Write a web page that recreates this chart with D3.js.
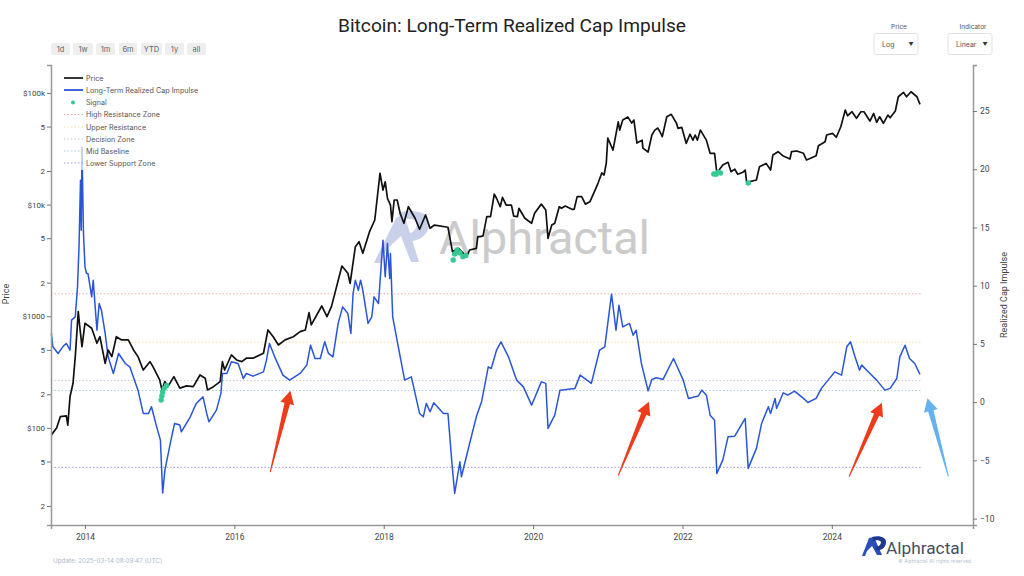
<!DOCTYPE html>
<html>
<head>
<meta charset="utf-8">
<script src="https://cdn.jsdelivr.net/npm/d3@7"></script>
<style>
html, body { margin: 0; padding: 0; background: #fff; }
svg { display: block; }
text { font-family: Inter, Roboto, sans-serif; }
</style>
</head>
<body>
<svg id="chart" width="1024" height="576"></svg>
<script>
// values
var priceYears = [2013.55,2013.62,2013.67,2013.75,2013.77,2013.80,2013.84,2013.87,2013.91,2013.93,2013.96,2014.00,2014.09,2014.16,2014.20,2014.27,2014.31,2014.36,2014.42,2014.49,2014.58,2014.65,2014.71,2014.78,2014.87,2014.91,2015.00,2015.03,2015.07,2015.11,2015.19,2015.27,2015.36,2015.45,2015.54,2015.61,2015.64,2015.72,2015.81,2015.84,2015.87,2015.96,2016.03,2016.10,2016.16,2016.25,2016.39,2016.45,2016.52,2016.59,2016.68,2016.79,2016.88,2016.95,2017.00,2017.03,2017.17,2017.24,2017.30,2017.44,2017.52,2017.55,2017.62,2017.67,2017.72,2017.81,2017.88,2017.95,2017.99,2018.02,2018.05,2018.09,2018.11,2018.14,2018.18,2018.22,2018.27,2018.33,2018.42,2018.48,2018.56,2018.62,2018.68,2018.86,2018.92,2019.00,2019.11,2019.15,2019.24,2019.26,2019.29,2019.33,2019.38,2019.43,2019.48,2019.51,2019.56,2019.59,2019.64,2019.71,2019.74,2019.79,2019.81,2019.89,2019.98,2020.02,2020.11,2020.17,2020.20,2020.25,2020.29,2020.35,2020.38,2020.43,2020.52,2020.55,2020.59,2020.65,2020.70,2020.76,2020.83,2020.87,2020.92,2020.95,2020.98,2021.00,2021.07,2021.14,2021.16,2021.20,2021.27,2021.32,2021.35,2021.39,2021.46,2021.47,2021.54,2021.59,2021.63,2021.67,2021.70,2021.73,2021.79,2021.85,2021.92,2021.94,2021.99,2022.05,2022.10,2022.14,2022.17,2022.20,2022.24,2022.32,2022.37,2022.43,2022.46,2022.54,2022.61,2022.65,2022.70,2022.74,2022.81,2022.84,2022.86,2022.99,2023.03,2023.12,2023.18,2023.21,2023.28,2023.35,2023.44,2023.46,2023.53,2023.62,2023.66,2023.73,2023.79,2023.82,2023.91,2023.93,2024.01,2024.06,2024.12,2024.18,2024.21,2024.27,2024.33,2024.39,2024.43,2024.51,2024.56,2024.60,2024.64,2024.69,2024.75,2024.78,2024.85,2024.89,2024.96,2025.00,2025.06,2025.14,2025.18];
var priceValues = [86.6,100,126,128,106,191,251,435,1100,807,535,866,781,573,656,379,499,435,656,614,614,499,435,330,392,354,269,219,260,234,288,227,238,234,298,279,219,234,260,392,330,450,406,392,421,421,466,754,656,553,614,656,728,754,1077,836,1236,992,1219,2818,2427,1972,4198,4656,3664,5720,7280,19100,13500,16000,11400,9910,7030,11000,11000,8360,6808,9570,7540,6010,8070,6140,6560,6270,3790,4060,3420,3920,4060,5160,5160,5240,7800,7800,12400,11400,9570,11600,9910,9910,7900,7800,9270,7540,6808,8360,10100,8950,4990,6560,6808,9570,9270,9710,9080,9080,11800,11800,10100,10600,13500,15600,19200,18400,23600,39400,30800,55000,46500,57200,60800,53700,57200,35600,37800,32100,29600,42000,46500,48500,44700,40600,61200,64300,53500,48200,49200,35400,42700,37800,42000,37800,46500,37800,28800,28800,19200,22600,23900,19700,20800,18700,19500,20400,15800,16600,21800,23400,20400,27800,29800,27200,25600,29800,30200,28800,25100,26300,27400,33700,36600,42000,43500,40100,49800,70300,62500,67900,59300,67900,67900,56000,65600,54600,61200,53500,63400,60000,68900,92500,101200,92500,102500,92500,79100];

var impulseYears = [2013.55,2013.57,2013.64,2013.71,2013.75,2013.80,2013.82,2013.87,2013.90,2013.92,2013.94,2013.95,2013.96,2013.98,2014.00,2014.02,2014.04,2014.09,2014.11,2014.16,2014.19,2014.22,2014.27,2014.31,2014.38,2014.45,2014.54,2014.60,2014.71,2014.78,2014.85,2014.89,2014.96,2015.01,2015.04,2015.07,2015.16,2015.20,2015.27,2015.29,2015.41,2015.49,2015.58,2015.63,2015.66,2015.76,2015.82,2015.84,2015.90,2015.96,2016.05,2016.12,2016.16,2016.25,2016.39,2016.43,2016.47,2016.54,2016.65,2016.74,2016.88,2016.97,2017.02,2017.08,2017.15,2017.21,2017.26,2017.32,2017.39,2017.45,2017.52,2017.56,2017.59,2017.62,2017.66,2017.69,2017.72,2017.79,2017.84,2017.87,2017.93,2017.99,2018.02,2018.05,2018.08,2018.09,2018.12,2018.17,2018.28,2018.37,2018.48,2018.53,2018.57,2018.62,2018.67,2018.80,2018.86,2018.91,2018.95,2019.02,2019.04,2019.15,2019.24,2019.31,2019.40,2019.44,2019.51,2019.57,2019.67,2019.78,2019.87,2019.98,2020.11,2020.17,2020.20,2020.29,2020.36,2020.56,2020.63,2020.78,2020.89,2020.96,2021.05,2021.11,2021.15,2021.20,2021.29,2021.34,2021.38,2021.45,2021.54,2021.59,2021.65,2021.74,2021.88,2021.94,2022.01,2022.08,2022.21,2022.26,2022.32,2022.37,2022.43,2022.46,2022.54,2022.61,2022.70,2022.84,2022.88,2022.99,2023.06,2023.15,2023.18,2023.24,2023.26,2023.35,2023.41,2023.50,2023.62,2023.68,2023.79,2023.86,2024.04,2024.13,2024.20,2024.25,2024.31,2024.37,2024.40,2024.51,2024.60,2024.71,2024.78,2024.87,2024.91,2024.98,2025.04,2025.11,2025.18];
var impulseValues = [5.90,4.75,4.18,4.81,5.04,4.46,7.04,7.32,9.90,13.33,19.06,14.76,21.89,14.48,11.61,11.05,11.05,9.04,10.47,6.18,8.47,7.90,5.90,3.89,2.46,4.18,3.32,3.03,1.03,-0.97,-0.97,-0.40,-2.12,-3.26,-7.81,-5.84,-2.98,-1.83,-1.97,-2.55,-1.26,-0.11,0.45,-0.97,-1.69,-0.69,0.75,2.46,2.46,3.46,3.32,2.03,2.46,2.23,2.60,3.61,5.04,3.89,2.32,1.89,2.46,3.18,4.89,3.75,3.75,5.18,4.18,3.89,6.76,8.18,7.61,5.90,9.33,10.47,9.61,10.47,9.61,6.76,7.32,9.04,8.47,13.91,10.76,13.62,10.62,12.76,7.32,5.61,1.89,2.17,-0.97,-1.26,-0.11,-0.83,-0.06,-0.97,-0.97,-4.98,-7.84,-5.12,-6.41,-3.55,-1.26,0.03,3.03,2.89,4.46,5.18,3.89,1.89,1.31,-0.26,1.74,1.61,-2.26,-1.12,1.03,1.18,2.32,1.61,4.46,4.75,9.27,6.18,8.33,6.46,6.76,5.75,6.18,3.32,0.97,1.95,2.09,1.95,3.75,2.89,1.89,0.32,0.52,1.03,0.60,-1.12,-1.55,-6.12,-4.98,-2.98,-2.92,-1.40,-5.69,-3.97,-1.83,-0.40,-0.97,0.32,-0.54,0.80,0.60,0.94,0.32,-0.03,0.32,1.18,2.60,2.32,4.75,5.18,3.89,2.75,3.18,2.46,1.89,1.03,1.18,2.03,3.89,4.89,3.75,3.32,2.38];

var signalYears = [2015.02,2015.03,2015.04,2015.06,2015.09,2018.93,2018.95,2018.98,2019.00,2019.02,2019.06,2019.10,2022.42,2022.45,2022.48,2022.51,2022.88];
var signalPrices = [178,193,210,226,240,3190,3610,3920,3770,3690,3420,3500,18800,18700,19500,19200,15600];

var zoneNames = ["High Resistance Zone","Upper Resistance","Decision Zone","Mid Baseline","Lower Support Zone"];
var zoneValues = [9.3,5.15,1.85,1.0,-5.6];
var zoneColors = ["#f0a8a0","#f5e0a0","#c8c8e0","#a8d0d8","#9a9ae8"];

var yearTicks = [2014,2016,2018,2020,2022,2024];
var priceTicks = [100000,50000,20000,10000,5000,2000,1000,500,200,100,50,20];
var priceTickLabels = ["$100k","5","2","$10k","5","2","$1000","5","2","$100","5","2"];
var impulseTicks = [-10,-5,0,5,10,15,20,25];
var rangeButtons = ["1d","1w","1m","6m","YTD","1y","all"];

// arrows are [year, impulse] tail then tip
var redArrows = [[2016.48,-6.0,2016.75,0.97],[2021.14,-6.3,2021.55,0.03],[2024.23,-6.41,2024.67,-0.06]];
var blueArrows = [[2025.56,-6.38,2025.28,0.33]];

var svg = d3.select("#chart");
var left = 51, right = 973, top_ = 65, bottom = 525;

var x = d3.scaleLinear().domain([2013.545,2025.89]).range([left,right]);
var yPrice = d3.scaleLog().domain([13.5,178000]).range([bottom,top_]);
var yImpulse = d3.scaleLinear().domain([-10.55,28.95]).range([bottom,top_]);

// watermark
var wm = svg.append("g").attr("fill","#c9d0ea");
wm.append("path").attr("d","M374 263 L396 218 L404 214 L419 262 L411 262 L401 236 L386 250 L381 263 Z");
wm.append("path").attr("d","M398 213 C412 209 428 211 429 222 C430 234 420 241 410 241 L408 234 C414 232 418 228 416 222 C414 218 406 218 401 220 Z");
svg.append("text").attr("x",439).attr("y",254).attr("font-size",46.8)
    .style("font-family","Roboto").attr("fill","#cbcbcb").text("Alphractal");

// title
svg.append("text").attr("x",512).attr("y",32).attr("text-anchor","middle").attr("font-size",19.15)
    .style("font-family","Roboto").attr("fill","#222").text("Bitcoin: Long-Term Realized Cap Impulse");

// range buttons
var buttonX = [51,73,96,119,141,165,187];
var buttonW = [19,20,19,18,21,19,19];
rangeButtons.forEach(function(name,i){
    svg.append("rect").attr("x",buttonX[i]).attr("y",43).attr("width",buttonW[i]).attr("height",12)
        .attr("rx",2).attr("fill","#eeeeee");
    svg.append("text").attr("x",buttonX[i]+buttonW[i]/2).attr("y",51.5).attr("text-anchor","middle")
        .attr("font-size",7.5).attr("fill","#666").text(name);
});

// dropdowns
function dropdown(bx,title,value){
    svg.append("text").attr("x",bx+25).attr("y",29).attr("text-anchor","middle").attr("font-size",6.5).attr("fill","#555").text(title);
    svg.append("rect").attr("x",bx).attr("y",33.5).attr("width",44).attr("height",21).attr("rx",2)
        .attr("fill","#fff").attr("stroke","#e2e2e2");
    svg.append("text").attr("x",bx+8).attr("y",47).attr("font-size",7).attr("fill","#555").text(value);
    svg.append("text").attr("x",bx+37).attr("y",46).attr("text-anchor","middle").attr("font-size",5).attr("fill","#333").text("\u25BC");
}
dropdown(874,"Price","Log");
dropdown(948,"Indicator","Linear");

// zone lines
svg.selectAll(".zone").data(zoneValues).enter().append("line")
    .attr("x1",left).attr("x2",x(2025.19))
    .attr("y1",function(d){ return yImpulse(d); }).attr("y2",function(d){ return yImpulse(d); })
    .attr("stroke",function(d,i){ return zoneColors[i]; })
    .attr("stroke-width",1).attr("stroke-dasharray","1.5 2");

// series
var impulseLine = d3.line().x(function(d){ return x(d[0]); }).y(function(d){ return yImpulse(d[1]); });
var priceLine = d3.line().x(function(d){ return x(d[0]); }).y(function(d){ return yPrice(d[1]); });

svg.append("path").datum(d3.zip(impulseYears,impulseValues)).attr("d",impulseLine)
    .attr("fill","none").attr("stroke","#2a55d6").attr("stroke-width",1.5).attr("stroke-linejoin","round");
svg.append("path").datum(d3.zip(priceYears,priceValues)).attr("d",priceLine)
    .attr("fill","none").attr("stroke","#111").attr("stroke-width",1.7).attr("stroke-linejoin","round");

svg.selectAll(".signal").data(d3.zip(signalYears,signalPrices)).enter().append("circle")
    .attr("cx",function(d){ return x(d[0]); }).attr("cy",function(d){ return yPrice(d[1]); })
    .attr("r",2.7).attr("fill","#35c994");

// arrows
function arrow(a,color){
    var x0 = x(a[0]), y0 = yImpulse(a[1]), x1 = x(a[2]), y1 = yImpulse(a[3]);
    var len = Math.sqrt((x1-x0)*(x1-x0)+(y1-y0)*(y1-y0));
    var ux = (x1-x0)/len, uy = (y1-y0)/len, nx = -uy, ny = ux;
    var hx = x1-ux*13, hy = y1-uy*13;
    var pts = [
        [x0+nx*0.5,y0+ny*0.5],[hx+nx*2.8,hy+ny*2.8],[hx+nx*7,hy+ny*7],[x1,y1],
        [hx-nx*7,hy-ny*7],[hx-nx*2.8,hy-ny*2.8],[x0-nx*0.5,y0-ny*0.5]
    ];
    svg.append("polygon").attr("points",pts.map(function(p){ return p.join(","); }).join(" ")).attr("fill",color);
}
redArrows.forEach(function(a){ arrow(a,"#ee3b1b"); });
blueArrows.forEach(function(a){ arrow(a,"#65b2f2"); });

// axes
var axisColor = "#999";
var gLeft = svg.append("g").attr("transform","translate("+left+",0)")
    .call(d3.axisLeft(yPrice).tickValues(priceTicks).tickSize(4).tickPadding(2)
    .tickFormat(function(d,i){ return priceTickLabels[i]; }));
var gRight = svg.append("g").attr("transform","translate("+right+",0)")
    .call(d3.axisRight(yImpulse).tickValues(impulseTicks).tickSize(4).tickPadding(3)
    .tickFormat(function(d){ return d < 0 ? "\u2212"+Math.abs(d) : d; }));
var gBottom = svg.append("g").attr("transform","translate(0,"+bottom+")")
    .call(d3.axisBottom(x).tickValues(yearTicks).tickSize(4).tickPadding(5).tickFormat(d3.format("d")));

[gLeft,gRight,gBottom].forEach(function(g){
    g.select(".domain").attr("stroke",axisColor).attr("stroke-width",1.5);
    g.selectAll(".tick line").attr("stroke","#777");
    g.selectAll(".tick text").attr("fill","#444").style("font-family","Roboto");
});
gLeft.selectAll(".tick text").attr("font-size",8);
gRight.selectAll(".tick text").attr("font-size",8.5);
gBottom.selectAll(".tick text").attr("font-size",8.5);

svg.append("text").attr("transform","translate(9,294) rotate(-90)").attr("text-anchor","middle")
    .attr("font-size",9).style("font-family","Roboto").attr("fill","#444").text("Price");
svg.append("text").attr("transform","translate(1007,295) rotate(-90)").attr("text-anchor","middle")
    .attr("font-size",9).style("font-family","Roboto").attr("fill","#444").text("Realized Cap Impulse");

// legend sits on a see-through white panel
svg.append("rect").attr("x",57).attr("y",70).attr("width",146).attr("height",100).attr("fill","#fff").attr("opacity",0.7);
var rowY = [78,90,102.5,114.5,127,139,151,163];
var rowNames = ["Price","Long-Term Realized Cap Impulse","Signal"].concat(zoneNames);
rowNames.forEach(function(name,i){
    svg.append("text").attr("x",86).attr("y",rowY[i]+2.7).attr("font-size",7.2).attr("fill","#555").text(name);
    if (i == 2) {
        svg.append("circle").attr("cx",73).attr("cy",rowY[i]).attr("r",2).attr("fill","#35c994");
    } else if (i < 2) {
        svg.append("line").attr("x1",64).attr("x2",83).attr("y1",rowY[i]).attr("y2",rowY[i])
            .attr("stroke",i == 0 ? "#222" : "#2a55d6").attr("stroke-width",1.8);
    } else {
        svg.append("line").attr("x1",64).attr("x2",83).attr("y1",rowY[i]).attr("y2",rowY[i])
            .attr("stroke",zoneColors[i-3]).attr("stroke-width",1).attr("stroke-dasharray","1.5 2");
    }
});

// footer
svg.append("text").attr("x",53).attr("y",563).attr("font-size",6.3).attr("fill","#a9b9cc")
    .text("Update: 2025-03-14 08:09:47 (UTC)");
svg.append("path").attr("d","M862 556 L869 538 L874 537 L882 555 L877 555 L872 546 L867 551 L865 556 Z").attr("fill","#2a4fb8");
svg.append("path").attr("d","M872 537 C879 535 887 537 886 543 C885 549 880 551 876 550 L875 547 C878 547 881 545 881 542 C880 540 876 540 873 541 Z").attr("fill","#1f3a8a");
svg.append("text").attr("x",886).attr("y",554).attr("font-size",17.3).style("font-family","Roboto").attr("fill","#44505f").text("Alphractal");
svg.append("text").attr("x",971).attr("y",563).attr("text-anchor","end").attr("font-size",4.9).attr("fill","#b8c4d2")
    .text("\u00A9 Alphractal All rights reserved");
</script>
</body>
</html>
